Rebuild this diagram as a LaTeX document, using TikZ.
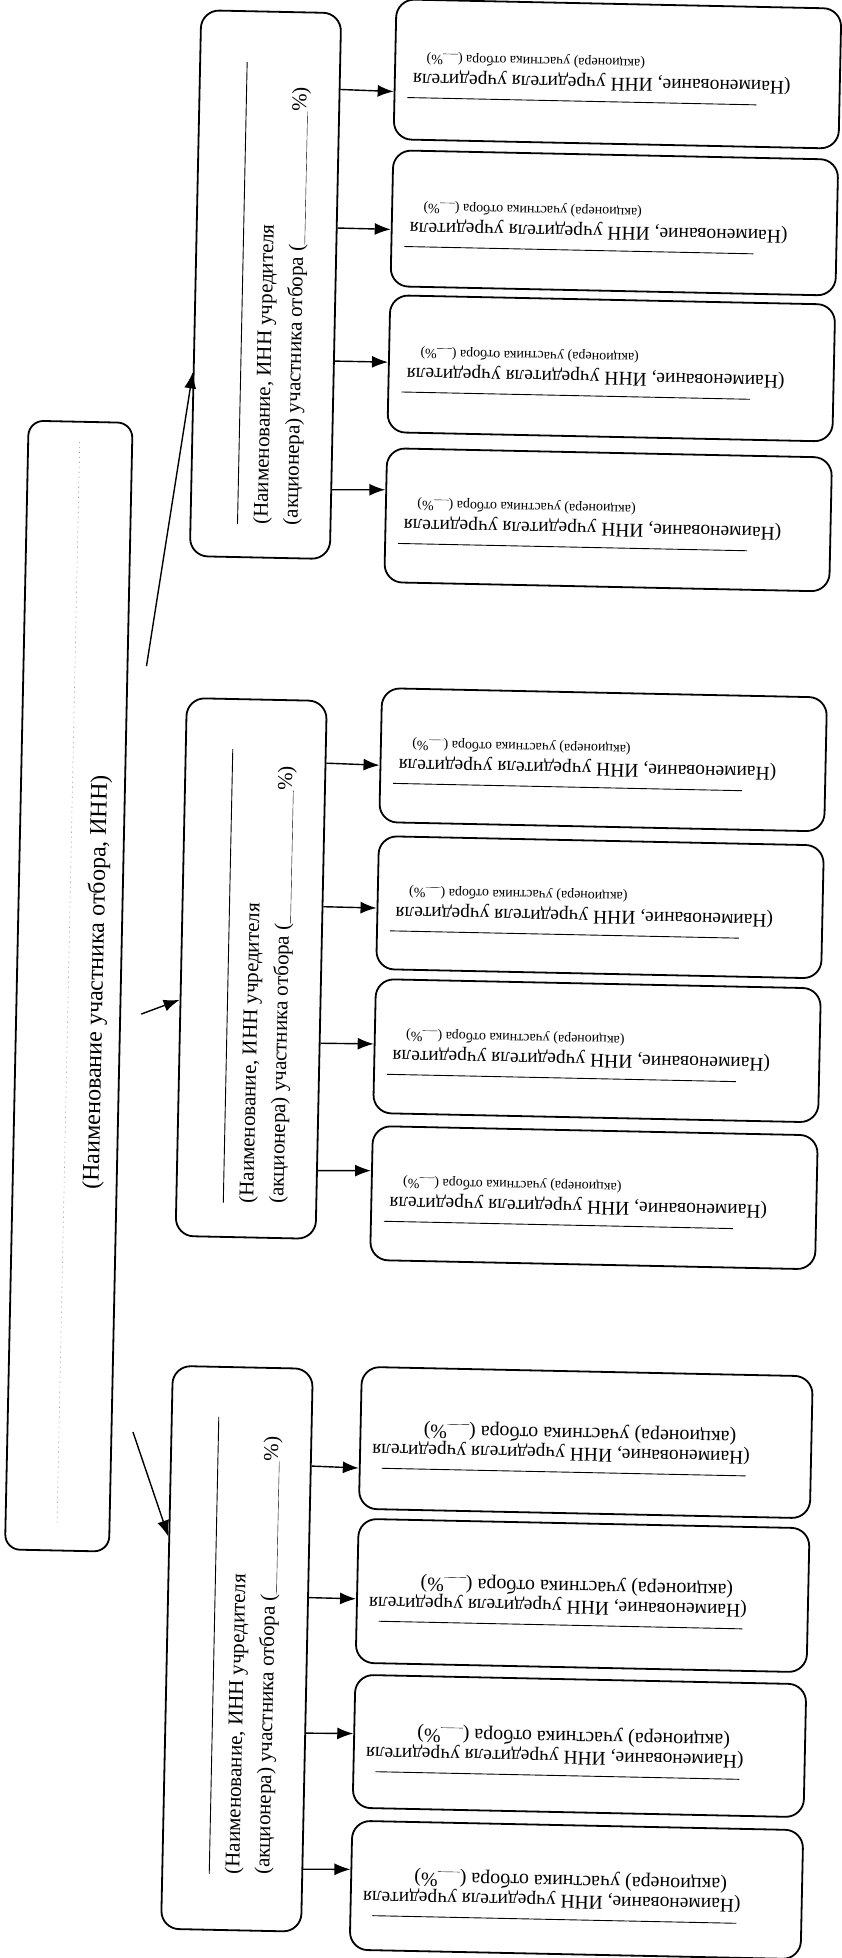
\documentclass[tikz,border=0pt]{standalone}
\usepackage{fontspec}
\setmainfont{Liberation Serif}
\usetikzlibrary{arrows.meta,calc}
\begin{document}
\begin{tikzpicture}[x=1pt,y=-1pt,
  box/.style={draw, line width=1.8pt, rounded corners=18pt, inner sep=0pt},
  arr/.style={line width=1.4pt, -{Latex[length=16pt,width=12pt]}},
  maintxt/.style={rotate=90, font=\fontsize{24}{28}\selectfont, inner sep=0pt, anchor=base},
  midtxt/.style={rotate=90, font=\fontsize{21}{25}\selectfont, inner sep=0pt, anchor=base west},
  rtxtA/.style={rotate=180, font=\fontsize{19.5}{23}\selectfont, inner sep=0pt, anchor=base west},
  rtxtB/.style={rotate=180, font=\fontsize{14}{17}\selectfont, inner sep=0pt, anchor=base west},
  rtxtBL/.style={rotate=180, font=\fontsize{20}{23}\selectfont, inner sep=0pt, anchor=base west},
  blankrule/.style={line width=0.9pt},
  dotrule/.style={line width=0.6pt, gray, dash pattern=on 1pt off 4pt},
]
\fill[white] (0,0) rectangle (842,1958);
\useasboundingbox (0,0) rectangle (842,1958);
\begin{scope}[rotate around={-1.2:(421,979)}, every node/.append style={transform shape}]
  % main box
  \node[box, rounded corners=15pt, minimum width=104pt, minimum height=1129pt] (main) at (69,993.5) {};
  \draw[dotrule] (68.5,449) -- (68.5,1534);
  \node[maintxt] (maintext) at (103,989) {(Наименование участника отбора, ИНН)};
  % middle boxes
  \node[box, minimum width=140pt, minimum height=546pt] (m1) at (251,288) {};
  \node[box, minimum width=140pt, minimum height=538pt] (m2) at (251,972) {};
  \node[box, minimum width=140pt, minimum height=563pt] (m3) at (251,1652.5) {};
  \foreach \k/\s/\e in {1/528/66, 2/1207/753, 3/1878/1421} {
    \draw[blankrule] (228,\s) -- (228,\e);
    \node[midtxt] (mt\k a) at (258,\s) {(Наименование, ИНН учредителя};
    \node[midtxt] (mt\k b) at (288,\s) {(акционера) участника отбора (\underline{\hspace{133pt}}\%)};
  }
  % right boxes
  \foreach \n/\cx/\cy/\w/\h in {11/598.5/70/445/140, 12/598.5/219/445/136, 13/598.5/364.5/445/137, 14/598.5/516/445/134,
      21/598.5/756/445/134, 22/598.5/903.5/445/133, 23/598.5/1047/445/134, 24/598.5/1194/445/134,
      31/595.5/1439/451/142, 32/595.5/1592/451/144, 33/595.5/1742.5/451/133, 34/595.5/1886.5/451/129} {
    \node[box, minimum width=\w pt, minimum height=\h pt] (r\n) at (\cx,\cy) {};
  }
  % texts of the upper two groups
  \foreach \n/\cy in {11/70, 12/219, 13/364.5, 14/516, 21/756, 22/903.5, 23/1047, 24/1194} {
    \node[rtxtA] (rt\n a) at (772,\cy+4) {(Наименование, ИНН учредителя учредителя};
    \node[rtxtB] (rt\n b) at (626,\cy-15) {(акционера) участника отбора (\underline{\hspace{15pt}}\%)};
    \draw[blankrule] (389,\cy+28) -- (738,\cy+28);
  }
  % texts of the lower group
  \foreach \n/\cy in {31/1439, 32/1592, 33/1742.5, 34/1886.5} {
    \node[rtxtA] (rt\n a) at (760,\cy+6) {(Наименование, ИНН учредителя учредителя};
    \node[rtxtBL] (rt\n b) at (746,\cy-14) {(акционера) участника отбора (\underline{\hspace{22pt}}\%)};
    \draw[blankrule] (392,\cy+30) -- (756,\cy+30);
  }
  % arrows middle -> right
  \foreach \m/\t/\r/\u in {1/0.141/11/0.657, 1/0.394/12/0.581, 1/0.637/13/0.489, 1/0.872/14/0.313,
      2/0.117/21/0.575, 2/0.383/22/0.541, 2/0.636/23/0.485, 2/0.872/24/0.336,
      3/0.174/31/0.711, 3/0.407/32/0.556, 3/0.647/33/0.444, 3/0.888/34/0.380} {
    \draw[arr] ($(m\m.north east)!\t!(m\m.south east)$) -- ($(r\r.north west)!\u!(r\r.south west)$);
  }
  % arrows main -> middle
  \coordinate (s1) at (140,672);
  \coordinate (s2) at (142,1020);
  \coordinate (s3) at (142.5,1438);
  \draw[arr] (s1) -- ($(m1.north west)!0.663!(m1.south west)$);
  \draw[arr] (s2) -- ($(m2.north west)!0.561!(m2.south west)$);
  \draw[arr] (s3) -- ($(m3.north west)!0.304!(m3.south west)$);
\end{scope}
\end{tikzpicture}
\end{document}
